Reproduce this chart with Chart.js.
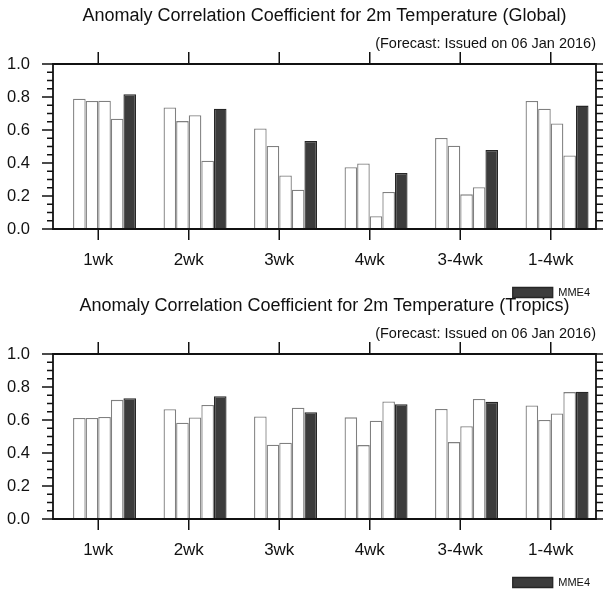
<!DOCTYPE html>
<html>
<head>
<meta charset="utf-8">
<script src="https://cdn.jsdelivr.net/npm/chart.js@4"></script>
<style>
html,body{margin:0;padding:0;background:#fff;overflow:hidden;width:605px;height:593px;}
canvas{position:absolute;left:0;}
#c1{top:0;}
#c2{top:290px;}
</style>
</head>
<body>
<canvas id="c1" width="605" height="308"></canvas>
<canvas id="c2" width="605" height="308"></canvas>
<script>
// ---- data ----
const categories = ['1wk', '2wk', '3wk', '4wk', '3-4wk', '1-4wk'];
const yTickValues = [0.0, 0.2, 0.4, 0.6, 0.8, 1.0];

const globalTitle = 'Anomaly Correlation Coefficient for 2m Temperature (Global)';
const globalModel1 = [0.79, 0.737, 0.609, 0.375, 0.552, 0.776];
const globalModel2 = [0.776, 0.654, 0.503, 0.397, 0.505, 0.729];
const globalModel3 = [0.778, 0.689, 0.324, 0.078, 0.21, 0.64];
const globalModel4 = [0.668, 0.414, 0.238, 0.224, 0.253, 0.446];
const globalMME4 = [0.817, 0.729, 0.534, 0.34, 0.479, 0.748];

const tropicsTitle = 'Anomaly Correlation Coefficient for 2m Temperature (Tropics)';
const tropicsModel1 = [0.612, 0.665, 0.621, 0.616, 0.667, 0.688];
const tropicsModel2 = [0.612, 0.584, 0.45, 0.448, 0.466, 0.6];
const tropicsModel3 = [0.618, 0.615, 0.462, 0.596, 0.562, 0.639];
const tropicsModel4 = [0.722, 0.691, 0.675, 0.712, 0.728, 0.769];
const tropicsMME4 = [0.732, 0.744, 0.647, 0.696, 0.71, 0.771];

const subtitleText = '(Forecast: Issued on 06 Jan 2016)';

// ---- styling ----
const FONT = '"Liberation Sans", Arial, Helvetica, sans-serif';
const WHITE_FILL = '#ffffff';
const WHITE_BORDER = '#808080';
const DARK_FILL = '#3c3c3c';
const DARK_BORDER = '#262626';
const AXIS_COLOR = '#111111';

const framePlugin = {
  id: 'ncFrame',
  afterDraw(chart) {
    const ctx = chart.ctx;
    const a = chart.chartArea;
    const xs = chart.scales.x, ys = chart.scales.y;
    ctx.save();
    ctx.strokeStyle = AXIS_COLOR;
    ctx.lineWidth = 1.8;
    ctx.beginPath();
    ctx.rect(a.left, a.top, a.right - a.left, a.bottom - a.top);
    ctx.stroke();
    ctx.lineWidth = 1.5;
    ctx.beginPath();
    // y ticks (major every 0.2, minor every 0.05)
    for (let k = 0; k <= 20; k++) {
      const v = k * 0.05;
      const py = ys.getPixelForValue(v);
      const major = (k % 4 === 0);
      ctx.moveTo(a.left, py);
      ctx.lineTo(a.left - (major ? 11 : 6), py);
      ctx.moveTo(a.right, py);
      ctx.lineTo(a.right + 7, py);
    }
    // x ticks top and bottom
    for (let i = 0; i < categories.length; i++) {
      const px = xs.getPixelForTick(i);
      ctx.moveTo(px, a.top);
      ctx.lineTo(px, a.top - 12);
      ctx.moveTo(px, a.bottom);
      ctx.lineTo(px, a.bottom + 11);
    }
    ctx.stroke();
    ctx.restore();
  }
};

function whiteSet(label, data) {
  return {label, data, backgroundColor: WHITE_FILL, borderColor: WHITE_BORDER, borderWidth: 1.3};
}

function makeChart(id, title, m1, m2, m3, m4, mme) {
  return new Chart(document.getElementById(id), {
    type: 'bar',
    data: {
      labels: categories,
      datasets: [
        {label: '', data: categories.map(() => null), backgroundColor: 'rgba(0,0,0,0)', borderWidth: 0},
        whiteSet('Model 1', m1),
        whiteSet('Model 2', m2),
        whiteSet('Model 3', m3),
        whiteSet('Model 4', m4),
        {label: 'MME4', data: mme, backgroundColor: DARK_FILL, borderColor: DARK_BORDER, borderWidth: 1.3}
      ]
    },
    options: {
      responsive: false,
      animation: false,
      devicePixelRatio: 1,
      categoryPercentage: 0.835,
      barPercentage: 1.0,
      layout: {padding: {left: 53, right: 9, top: 0, bottom: 0}},
      plugins: {
        tooltip: {enabled: false},
        title: {
          display: true, text: title, color: '#111',
          font: {family: FONT, size: 18, weight: 'normal'},
          padding: {top: 5.7, bottom: 8}
        },
        subtitle: {
          display: true, text: subtitleText, align: 'end', color: '#111',
          font: {family: FONT, size: 14.5, weight: 'normal'},
          padding: {top: 0, bottom: 11.3}
        },
        legend: {
          display: true, position: 'bottom', align: 'end',
          labels: {
            filter: (item) => item.text === 'MME4',
            boxWidth: 40, boxHeight: 10, padding: 6, color: '#111',
            font: {family: FONT, size: 11}
          }
        }
      },
      scales: {
        x: {
          grid: {display: false, drawTicks: false},
          border: {display: false},
          ticks: {color: '#111', padding: 21, font: {family: FONT, size: 17}},
          afterFit: (s) => { s.height = 52; }
        },
        y: {
          min: 0, max: 1,
          grid: {display: false, drawTicks: false},
          border: {display: false},
          afterBuildTicks: (s) => { s.ticks = yTickValues.map(v => ({value: v})); },
          ticks: {color: '#111', mirror: true, padding: -46, font: {family: FONT, size: 16.5},
                  callback: (v) => Number(v).toFixed(1)},
          afterFit: (s) => { s.width = 0; }
        }
      }
    },
    plugins: [framePlugin]
  });
}

makeChart('c1', globalTitle, globalModel1, globalModel2, globalModel3, globalModel4, globalMME4);
makeChart('c2', tropicsTitle, tropicsModel1, tropicsModel2, tropicsModel3, tropicsModel4, tropicsMME4);
</script>
</body>
</html>
